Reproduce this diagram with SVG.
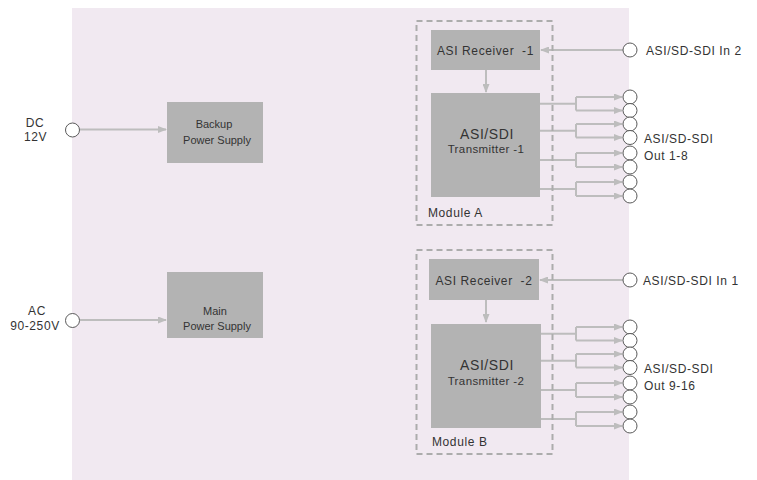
<svg xmlns="http://www.w3.org/2000/svg" width="757" height="480" viewBox="0 0 757 480">
<defs>
<marker id="ah" markerWidth="9" markerHeight="7" refX="8" refY="3.5" orient="auto" markerUnits="userSpaceOnUse"><path d="M0,0 L9,3.5 L0,7 z" fill="#bdbdbd"/></marker>
<style>
.bg{fill:#f1e9f1}
.box{fill:#b3b3b3}
.mod{fill:none;stroke:#acacac;stroke-width:2;stroke-dasharray:6,4}
.ln{fill:none;stroke:#bdbdbd;stroke-width:2}
.arr{fill:none;stroke:#bdbdbd;stroke-width:2;marker-end:url(#ah)}
.port{fill:#ffffff;stroke:#5a5a5a;stroke-width:1}
text{font-family:"Liberation Sans",Arial,sans-serif;fill:#333333;font-size:12px;letter-spacing:0.6px}
.c{text-anchor:middle}
.s{font-size:11.5px;letter-spacing:0.4px}
.p{font-size:11px;letter-spacing:0px}
.b{font-size:14px;letter-spacing:0.6px}
</style>
</defs>
<rect class="bg" x="72" y="8" width="557" height="472"/>

<g id="connectors">
<line class="arr" x1="80" y1="129.5" x2="166" y2="129.5"/>
<line class="arr" x1="80" y1="320" x2="166" y2="320"/>
<line class="arr" x1="623" y1="50" x2="541" y2="50"/>
<line class="arr" x1="486" y1="70" x2="486" y2="92"/>
<line class="arr" x1="623" y1="280" x2="540" y2="280"/>
<line class="arr" x1="486" y1="300" x2="486" y2="322"/>
<path class="ln" d="M540,103.75 H576 M576,97 V110.5 M540,130.75 H576 M576,124 V137.5 M540,160 H576 M576,153 V167 M540,189 H576 M576,182 V196"/>
<path class="arr" d="M576,97 H622"/><path class="arr" d="M576,110.5 H622"/>
<path class="arr" d="M576,124 H622"/><path class="arr" d="M576,137.5 H622"/>
<path class="arr" d="M576,153 H622"/><path class="arr" d="M576,167 H622"/>
<path class="arr" d="M576,182 H622"/><path class="arr" d="M576,196 H622"/>
<path class="ln" d="M541,333.75 H576 M576,327 V340.5 M541,360.75 H576 M576,354 V367.5 M541,390 H576 M576,383 V397 M541,419 H576 M576,412 V426"/>
<path class="arr" d="M576,327 H622"/><path class="arr" d="M576,340.5 H622"/>
<path class="arr" d="M576,354 H622"/><path class="arr" d="M576,367.5 H622"/>
<path class="arr" d="M576,383 H622"/><path class="arr" d="M576,397 H622"/>
<path class="arr" d="M576,412 H622"/><path class="arr" d="M576,426 H622"/>
</g>

<g id="dc-in">
<circle class="port" cx="72.5" cy="130" r="7"/>
<text class="c" x="35" y="127">DC</text>
<text class="c" x="35.5" y="141">12V</text>
</g>
<g id="ac-in">
<circle class="port" cx="72.5" cy="320.5" r="7"/>
<text class="c" x="37" y="315">AC</text>
<text class="c" x="35" y="330">90-250V</text>
</g>
<g id="backup-psu">
<rect class="box" x="167" y="102" width="96" height="61"/>
<text class="c p" x="214" y="128">Backup</text>
<text class="c p" x="217" y="143.5">Power Supply</text>
</g>
<g id="main-psu">
<rect class="box" x="167" y="272" width="96" height="66"/>
<text class="c p" x="215" y="315">Main</text>
<text class="c p" x="217" y="330">Power Supply</text>
</g>

<g id="module-a">
<rect class="mod" x="416.5" y="21" width="136" height="204"/>
<text x="428" y="217">Module A</text>
</g>
<g id="receiver-1">
<rect class="box" x="431" y="30" width="109" height="40"/>
<text class="c" x="485.5" y="54.5">ASI Receiver&#160; -1</text>
</g>
<g id="transmitter-1">
<rect class="box" x="431" y="93" width="109" height="104"/>
<text class="c b" x="487" y="139">ASI/SDI</text>
<text class="c s" x="486" y="153">Transmitter -1</text>
</g>
<g id="in-2">
<circle class="port" cx="630" cy="50" r="7"/>
<text x="646" y="54.5">ASI/SD-SDI In 2</text>
</g>
<g id="out-1-8">
<circle class="port" cx="630" cy="97" r="7"/>
<circle class="port" cx="630" cy="110.5" r="7"/>
<circle class="port" cx="630" cy="124" r="7"/>
<circle class="port" cx="630" cy="137.5" r="7"/>
<circle class="port" cx="630" cy="153" r="7"/>
<circle class="port" cx="630" cy="167" r="7"/>
<circle class="port" cx="630" cy="182" r="7"/>
<circle class="port" cx="630" cy="196" r="7"/>
<text x="644" y="143">ASI/SD-SDI</text>
<text x="644" y="160">Out 1-8</text>
</g>

<g id="module-b">
<rect class="mod" x="416.5" y="250" width="136" height="204"/>
<text x="432" y="446">Module B</text>
</g>
<g id="receiver-2">
<rect class="box" x="429" y="259" width="110" height="41"/>
<text class="c" x="484" y="284.5">ASI Receiver&#160; -2</text>
</g>
<g id="transmitter-2">
<rect class="box" x="431" y="324" width="110" height="104"/>
<text class="c b" x="487" y="370">ASI/SDI</text>
<text class="c s" x="486" y="385">Transmitter -2</text>
</g>
<g id="in-1">
<circle class="port" cx="630" cy="280" r="7"/>
<text x="643" y="284.5">ASI/SD-SDI In 1</text>
</g>
<g id="out-9-16">
<circle class="port" cx="630" cy="327" r="7"/>
<circle class="port" cx="630" cy="340.5" r="7"/>
<circle class="port" cx="630" cy="354" r="7"/>
<circle class="port" cx="630" cy="367.5" r="7"/>
<circle class="port" cx="630" cy="383" r="7"/>
<circle class="port" cx="630" cy="397" r="7"/>
<circle class="port" cx="630" cy="412" r="7"/>
<circle class="port" cx="630" cy="426" r="7"/>
<text x="644" y="373">ASI/SD-SDI</text>
<text x="644" y="390">Out 9-16</text>
</g>
</svg>
